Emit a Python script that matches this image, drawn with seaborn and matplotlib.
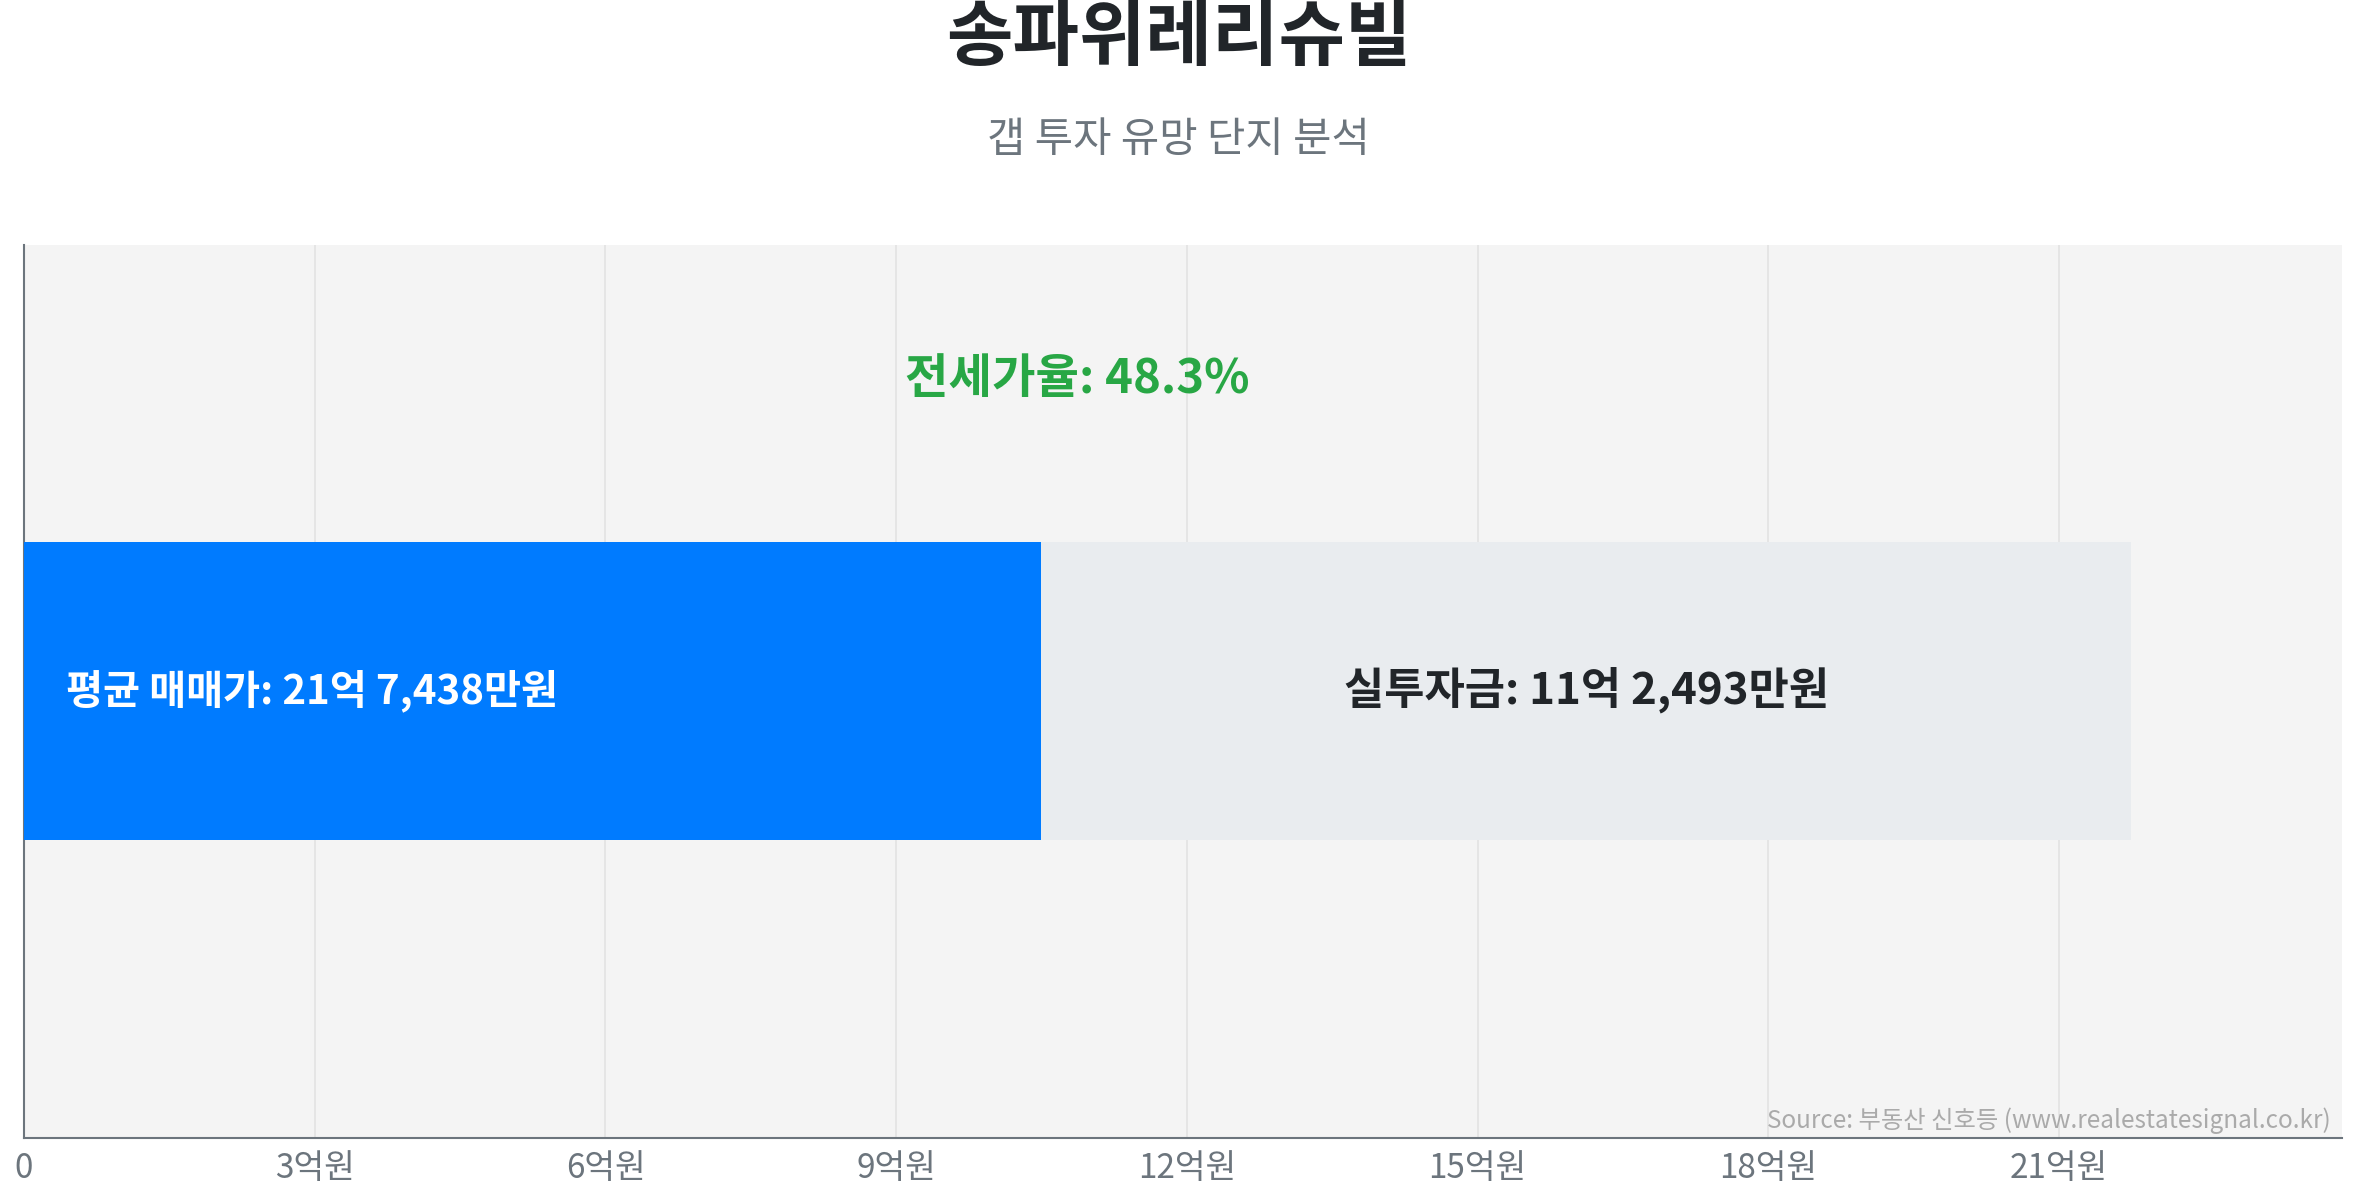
import matplotlib
matplotlib.use("Agg")
import matplotlib.pyplot as plt
import seaborn as sns
import pandas as pd

# values in 억원
complex_name = "송파위레리슈빌"
subtitle = "갭 투자 유망 단지 분석"
avg_price = 21.7438
invest_cash = 11.2493
jeonse_price = 10.4945
jeonse_ratio = 48.3
price_label = "평균 매매가: 21억 7,438만원"
invest_label = "실투자금: 11억 2,493만원"
tick_values = [0, 3, 6, 9, 12, 15, 18, 21]
tick_labels = ["0", "3억원", "6억원", "9억원", "12억원", "15억원", "18억원", "21억원"]
source = "Source: 부동산 신호등 (www.realestatesignal.co.kr)"

sns.set_style("white")
plt.rcParams["font.family"] = ["Noto Sans CJK KR", "DejaVu Sans"]

fig = plt.figure(figsize=(23.57, 12), dpi=100)
ax = fig.add_axes([0.0102, 0.052, 0.9834, 0.744])
ax.set_facecolor("#f4f4f4")

df_total = pd.DataFrame({"row": ["gap"], "value": [avg_price]})
df_jeonse = pd.DataFrame({"row": ["gap"], "value": [jeonse_price]})

sns.barplot(data=df_total, x="value", y="row", color="#e9ecef", width=1.0,
            saturation=1, orient="h", ax=ax, zorder=2, linewidth=0)
sns.barplot(data=df_jeonse, x="value", y="row", color="#007bff", width=1.0,
            saturation=1, orient="h", ax=ax, zorder=3, linewidth=0)

ax.set_xlim(0, avg_price * 1.1)
ax.set_ylim(1.5, -1.5)
ax.set_xlabel("")
ax.set_ylabel("")
ax.set_yticks([])
ax.set_xticks(tick_values)
ax.set_xticklabels(tick_labels, fontsize=24, color="#6c757d")
ax.tick_params(axis="x", length=6, color="#6c757d", pad=4)
ax.grid(axis="x", color="#e2e2e2", linewidth=1.2, zorder=0)
ax.set_axisbelow(True)

for side in ["top", "right"]:
    ax.spines[side].set_visible(False)
for side in ["left", "bottom"]:
    ax.spines[side].set_color("#6c757d")
    ax.spines[side].set_linewidth(1.5)

# labels
ax.text(avg_price * 0.02, 0, price_label, ha="left", va="center",
        fontsize=29, fontweight="bold", color="white", zorder=5)
ax.text((jeonse_price + avg_price) / 2, 0, invest_label, ha="center", va="center",
        fontsize=31.5, fontweight="bold", color="#212529", zorder=5)
ax.text(avg_price / 2, -1.05, f"전세가율: {jeonse_ratio}%", ha="center", va="center",
        fontsize=34, fontweight="bold", color="#28a745", zorder=5)
ax.text(0.995, 0.004, source, transform=ax.transAxes, ha="right", va="bottom",
        fontsize=17.5, color="#aaaaaa", zorder=5)

fig.text(0.5, 0.968, complex_name, ha="center", va="center",
         fontsize=52, fontweight="bold", color="#212529")
fig.text(0.5, 0.883, subtitle, ha="center", va="center",
         fontsize=30, color="#6c757d")

fig.savefig("out.png", dpi=100)
